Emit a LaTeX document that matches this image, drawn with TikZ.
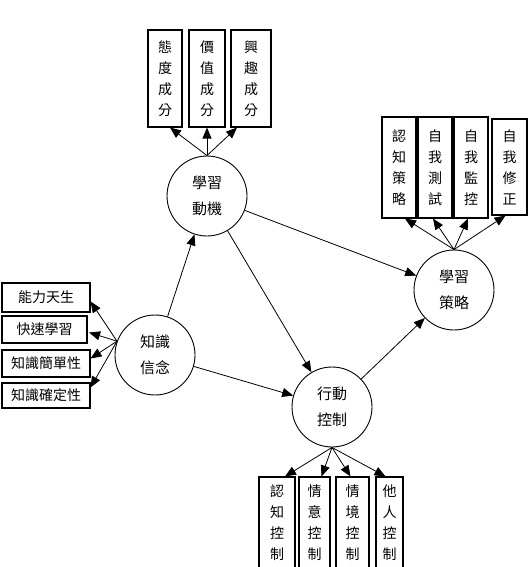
\documentclass[tikz,border=0pt]{standalone}
\usepackage{fontspec}
\newfontfamily\cjk{Noto Sans CJK TC}
\usetikzlibrary{arrows.meta,calc}
\begin{document}
\begin{tikzpicture}[x=1pt,y=-1pt,
 circ/.style={circle,draw,line width=0.9pt,minimum size=80pt,inner sep=0pt,align=center,font=\cjk\fontsize{15}{26}\selectfont},
 vbox/.style={draw,line width=1.1pt,inner sep=0pt,align=center,font=\cjk\fontsize{14}{21}\selectfont},
 hbox/.style={draw,line width=1.1pt,inner sep=0pt,font=\cjk\fontsize{14}{16}\selectfont},
 arr/.style={-{Triangle[length=11pt,width=9pt]},line width=0.8pt}]
\useasboundingbox (0,0) rectangle (529,567);

% circles
\node[circ] (A) at (207,196) {學習\\動機};
\node[circ] (B) at (155,355) {知識\\信念};
\node[circ] (C) at (332,407) {行動\\控制};
\node[circ] (D) at (454,290) {學習\\策略};

% top boxes
\node[vbox,minimum width=34pt,minimum height=97pt] (t1) at (165,78.5) {態\\度\\成\\分};
\node[vbox,minimum width=36pt,minimum height=97pt] (t2) at (207,78.5) {價\\值\\成\\分};
\node[vbox,minimum width=40pt,minimum height=97pt] (t3) at (251,78.5) {興\\趣\\成\\分};

% right boxes
\node[vbox,minimum width=34pt,minimum height=101pt] (r1) at (399,167.5) {認\\知\\策\\略};
\node[vbox,minimum width=34pt,minimum height=101pt] (r2) at (435,167.5) {自\\我\\測\\試};
\node[vbox,minimum width=34pt,minimum height=101pt] (r3) at (471,167.5) {自\\我\\監\\控};
\node[vbox,minimum width=35pt,minimum height=96pt] (r4) at (509.5,167) {自\\我\\修\\正};

% left boxes
\node[hbox,minimum width=88pt,minimum height=29pt] (l1) at (46,297.5) {能力天生};
\node[hbox,minimum width=85pt,minimum height=27pt] (l2) at (44.5,329.5) {快速學習};
\node[hbox,minimum width=88pt,minimum height=27pt] (l3) at (46,363.5) {知識簡單性};
\node[hbox,minimum width=88pt,minimum height=25pt] (l4) at (46,395.5) {知識確定性};

% bottom boxes
\node[vbox,minimum width=36pt,minimum height=91pt] (b1) at (277,522.5) {認\\知\\控\\制};
\node[vbox,minimum width=31pt,minimum height=91pt] (b2) at (314.5,522.5) {情\\意\\控\\制};
\node[vbox,minimum width=33pt,minimum height=91pt] (b3) at (352.5,522.5) {情\\境\\控\\制};
\node[vbox,minimum width=27pt,minimum height=91pt] (b4) at (389.5,522.5) {他\\人\\控\\制};

% main arrows
\draw[arr] (B) -- (A);
\draw[arr] (B) -- (C);
\draw[arr] (A) -- (C);
\draw[arr] (A) -- (D);
\draw[arr] (C) -- (D);

% A to top boxes
\draw[arr] (A.north) -- ($(t1.south)+(5,0)$);
\draw[arr] (A.north) -- (t2.south);
\draw[arr] (A.north) -- ($(t3.south)+(-14,0)$);

% D to right boxes
\draw[arr] (D.north) -- ($(r1.south)+(6,0)$);
\draw[arr] (D.north) -- ($(r2.south)+(-2,0)$);
\draw[arr] (D.north) -- ($(r3.south)+(-3,0)$);
\draw[arr] (D.north) -- ($(r4.south)+(-4,0)$);

% B to left boxes
\draw[arr] (B.160) -- ($(l1.east)+(0,4)$);
\draw[arr] (B.160) -- ($(l2.east)+(1.5,3)$);
\draw[arr] (B.160) -- ($(l3.east)+(0,-5)$);
\draw[arr] (B.160) -- ($(l4.east)+(0,-8)$);

% C to bottom boxes
\draw[arr] (C.south) -- ($(b1.north)+(8,0)$);
\draw[arr] (C.south) -- ($(b2.north)+(7,0)$);
\draw[arr] (C.south) -- ($(b3.north)+(-2,0)$);
\draw[arr] (C.south) -- ($(b4.north)+(-4,0)$);
\end{tikzpicture}
\end{document}
